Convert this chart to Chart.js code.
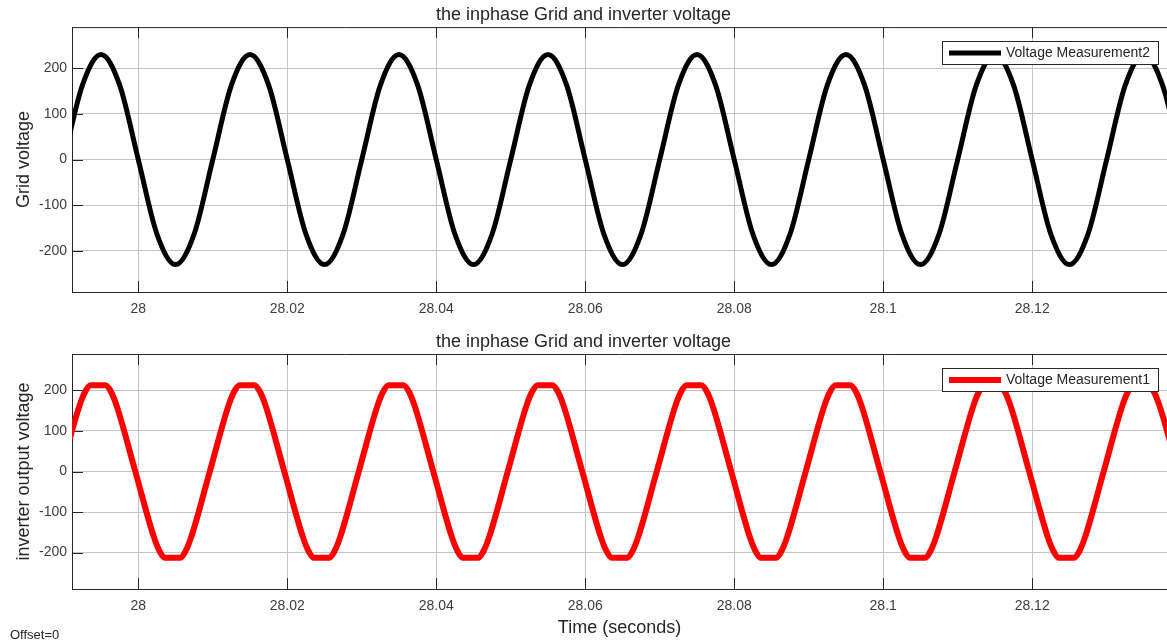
<!DOCTYPE html>
<html>
<head>
<meta charset="utf-8">
<script src="https://cdn.jsdelivr.net/npm/chart.js@4.4.1/dist/chart.umd.min.js"></script>
<style>
  html, body { margin: 0; padding: 0; background: #fff; }
  #wrap { position: relative; width: 1167px; height: 642px; overflow: hidden; }
  .plot { position: absolute; left: 0; }
  #offsetNote { position: absolute; left: 10px; top: 627px; font: 13px 'Liberation Sans', Arial, sans-serif; line-height: 15px; color: #262626; }
</style>
</head>
<body>
<div id="wrap">
  <canvas id="gridChart" class="plot" width="1167" height="320" style="top:0"></canvas>
  <canvas id="invChart" class="plot" width="1167" height="322" style="top:320px"></canvas>
  <div id="offsetNote">Offset=0</div>
</div>
<script>
const plotTitle = 'the inphase Grid and inverter voltage';
const xTicks = [28, 28.02, 28.04, 28.06, 28.08, 28.1, 28.12];
const xTickLabels = ['28', '28.02', '28.04', '28.06', '28.08', '28.1', '28.12'];
const yTicks = [-200, -100, 0, 100, 200];

// grid voltage (scope trace 2), sampled every 2.5 ms
const gridTime = [
  27.99, 27.9925, 27.995, 27.9975, 28.0, 28.0025, 28.005, 28.0075,
  28.01, 28.0125, 28.015, 28.0175, 28.02, 28.0225, 28.025, 28.0275,
  28.03, 28.0325, 28.035, 28.0375, 28.04, 28.0425, 28.045, 28.0475,
  28.05, 28.0525, 28.055, 28.0575, 28.06, 28.0625, 28.065, 28.0675,
  28.07, 28.0725, 28.075, 28.0775, 28.08, 28.0825, 28.085, 28.0875,
  28.09, 28.0925, 28.095, 28.0975, 28.1, 28.1025, 28.105, 28.1075,
  28.11, 28.1125, 28.115, 28.1175, 28.12, 28.1225, 28.125, 28.1275,
  28.13, 28.1325, 28.135, 28.1375, 28.14
];
const gridVoltage = [
  0, 163, 230, 163, 0, -163, -230, -163,
  0, 163, 230, 163, 0, -163, -230, -163,
  0, 163, 230, 163, 0, -163, -230, -163,
  0, 163, 230, 163, 0, -163, -230, -163,
  0, 163, 230, 163, 0, -163, -230, -163,
  0, 163, 230, 163, 0, -163, -230, -163,
  0, 163, 230, 163, 0, -163, -230, -163,
  0, 163, 230, 163, 0
];

// inverter output (scope trace 1), flattened crests
const invTime = [
  27.9896, 27.9921, 27.9929, 27.9936, 27.9956, 27.9963, 27.9971, 27.9996, 28.0021, 28.0029, 28.0036, 28.0056, 28.0063, 28.0071,
  28.0096, 28.0121, 28.0129, 28.0136, 28.0156, 28.0163, 28.0171, 28.0196, 28.0221, 28.0229, 28.0236, 28.0256, 28.0263, 28.0271,
  28.0296, 28.0321, 28.0329, 28.0336, 28.0356, 28.0363, 28.0371, 28.0396, 28.0421, 28.0429, 28.0436, 28.0456, 28.0463, 28.0471,
  28.0496, 28.0521, 28.0529, 28.0536, 28.0556, 28.0563, 28.0571, 28.0596, 28.0621, 28.0629, 28.0636, 28.0656, 28.0663, 28.0671,
  28.0696, 28.0721, 28.0729, 28.0736, 28.0756, 28.0763, 28.0771, 28.0796, 28.0821, 28.0829, 28.0836, 28.0856, 28.0863, 28.0871,
  28.0896, 28.0921, 28.0929, 28.0936, 28.0956, 28.0963, 28.0971, 28.0996, 28.1021, 28.1029, 28.1036, 28.1056, 28.1063, 28.1071,
  28.1096, 28.1121, 28.1129, 28.1136, 28.1156, 28.1163, 28.1171, 28.1196, 28.1221, 28.1229, 28.1236, 28.1256, 28.1263, 28.1271,
  28.1296, 28.1321, 28.1329, 28.1336, 28.1356, 28.1363, 28.1371, 28.1396
];
const invVoltage = [
  0, 162, 198, 213, 213, 198, 162, 0, -162, -198, -213, -213, -198, -162,
  0, 162, 198, 213, 213, 198, 162, 0, -162, -198, -213, -213, -198, -162,
  0, 162, 198, 213, 213, 198, 162, 0, -162, -198, -213, -213, -198, -162,
  0, 162, 198, 213, 213, 198, 162, 0, -162, -198, -213, -213, -198, -162,
  0, 162, 198, 213, 213, 198, 162, 0, -162, -198, -213, -213, -198, -162,
  0, 162, 198, 213, 213, 198, 162, 0, -162, -198, -213, -213, -198, -162,
  0, 162, 198, 213, 213, 198, 162, 0, -162, -198, -213, -213, -198, -162,
  0, 162, 198, 213, 213, 198, 162, 0
];

const FONT = "'Liberation Sans', Arial, sans-serif";
const TXT = '#262626';
Chart.defaults.font.family = FONT;

// box top edge, inward ticks and the boxed legend like the scope figure
const scopeAxes = {
  id: 'scopeAxes',
  beforeDatasetsDraw(chart) {
    const { ctx, chartArea: a, scales: { x, y } } = chart;
    ctx.save();
    ctx.strokeStyle = TXT;
    ctx.lineWidth = 1;
    ctx.beginPath();
    ctx.moveTo(a.left, a.top + 0.5);
    ctx.lineTo(a.right, a.top + 0.5);
    x.ticks.forEach(t => {
      const px = Math.round(x.getPixelForValue(t.value)) + 0.5;
      ctx.moveTo(px, a.bottom); ctx.lineTo(px, a.bottom - 11);
      ctx.moveTo(px, a.top); ctx.lineTo(px, a.top + 11);
    });
    y.ticks.forEach(t => {
      const py = Math.round(y.getPixelForValue(t.value)) + 0.5;
      ctx.moveTo(a.left, py); ctx.lineTo(a.left + 11, py);
    });
    ctx.stroke();
    ctx.restore();
  },
  afterDraw(chart) {
    const { ctx, chartArea: a } = chart;
    const ds = chart.data.datasets[0];
    ctx.save();
    ctx.font = '14px ' + FONT;
    const tw = ctx.measureText(ds.label).width;
    const w = Math.round(7 + 52 + 5 + tw + 8), h = 23;
    const bx = Math.round(a.right - 9 - w), by = Math.round(a.top + 14);
    ctx.fillStyle = '#fff';
    ctx.fillRect(bx, by, w, h);
    ctx.strokeStyle = TXT;
    ctx.lineWidth = 1;
    ctx.strokeRect(bx + 0.5, by + 0.5, w, h);
    ctx.strokeStyle = ds.borderColor;
    ctx.lineWidth = ds.borderWidth;
    ctx.beginPath();
    ctx.moveTo(bx + 7, by + h / 2 + 0.5);
    ctx.lineTo(bx + 59, by + h / 2 + 0.5);
    ctx.stroke();
    ctx.fillStyle = TXT;
    ctx.textBaseline = 'middle';
    ctx.fillText(ds.label, bx + 64, by + h / 2 + 1);
    ctx.restore();
  }
};

function scopeConfig(time, volts, label, color, lw, yTitle, opt) {
  return {
    type: 'line',
    data: {
      datasets: [{
        label: label,
        data: time.map((t, i) => ({ x: t, y: volts[i] })),
        borderColor: color,
        borderWidth: lw,
        pointRadius: 0,
        cubicInterpolationMode: 'monotone',
        tension: 0.4,
        clip: 0,
        fill: false
      }]
    },
    options: {
      responsive: false,
      animation: false,
      events: [],
      elements: { line: { capBezierPoints: false, borderJoinStyle: 'round' } },
      layout: { padding: 0 },
      plugins: {
        legend: { display: false },
        tooltip: { enabled: false },
        title: {
          display: true,
          text: plotTitle,
          color: TXT,
          font: { size: 18, weight: 'normal' },
          padding: opt.titlePad
        }
      },
      scales: {
        x: {
          type: 'linear',
          min: 27.9911,
          max: 28.1381,
          afterBuildTicks: s => { s.ticks = xTicks.map(v => ({ value: v })); },
          afterFit: s => { s.height = opt.xHeight; },
          ticks: {
            padding: 9,
            color: '#3c3c3c',
            font: { size: 14 },
            maxRotation: 0,
            autoSkip: false,
            callback: (v) => xTickLabels[xTicks.indexOf(v)] ?? ''
          },
          grid: { color: '#c4c4c4', drawTicks: false },
          border: { color: TXT, width: 1 },
          title: {
            display: !!opt.xTitle,
            text: opt.xTitle || '',
            color: TXT,
            font: { size: 18 },
            padding: { top: 0, bottom: 3 }
          }
        },
        y: {
          min: -290,
          max: 290,
          afterBuildTicks: s => { s.ticks = yTicks.map(v => ({ value: v })); },
          afterFit: s => { s.width = 72; },
          ticks: { padding: 5, color: '#3c3c3c', font: { size: 14 } },
          grid: { color: '#c4c4c4', drawTicks: false },
          border: { color: TXT, width: 1 },
          title: {
            display: true,
            text: yTitle,
            color: TXT,
            font: { size: 18 },
            padding: { top: 13, bottom: 0 }
          }
        }
      }
    },
    plugins: [scopeAxes]
  };
}

new Chart(document.getElementById('gridChart'),
  scopeConfig(gridTime, gridVoltage, 'Voltage Measurement2', '#000000', 5, 'Grid voltage',
    { titlePad: { top: 4, bottom: 1.5 }, xHeight: 28 }));

new Chart(document.getElementById('invChart'),
  scopeConfig(invTime, invVoltage, 'Voltage Measurement1', '#ff0000', 6, 'inverter output voltage',
    { titlePad: { top: 11.2, bottom: 1.2 }, xHeight: 53, xTitle: 'Time (seconds)' }));
</script>
</body>
</html>
